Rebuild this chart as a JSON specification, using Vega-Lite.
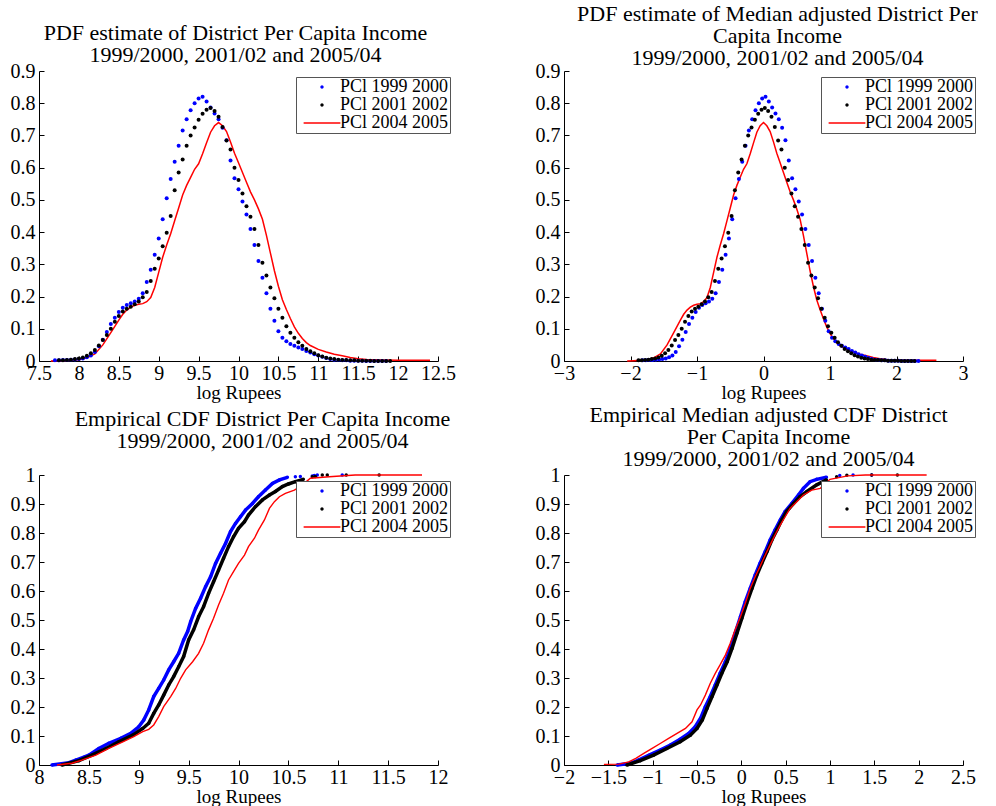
{
"$schema": "https://vega.github.io/schema/vega-lite/v6.json",
"background": "white",
"padding": {"left": 10, "top": 3, "right": 0, "bottom": 0},
"columns": 2,
"spacing": {"row": 114, "column": 126},
"bounds": "flush",
"resolve": {"scale": {"color": "independent"}, "legend": {"color": "independent"}},
"config": {
  "font": "Liberation Serif",
  "view": {"stroke": null},
  "axis": {"domainColor": "#000", "domainWidth": 1, "tickColor": "#000", "tickSize": -5, "tickWidth": 1, "labelFont": "Liberation Serif", "labelFontSize": 20, "labelColor": "#000", "grid": false, "labelFlush": false, "labelOverlap": false, "titleFont": "Liberation Serif", "titleFontSize": 19, "titleFontWeight": "normal", "titleColor": "#000"},
  "axisX": {"labelPadding": 7, "titlePadding": 0},
  "axisY": {"labelPadding": 9},
  "title": {"font": "Liberation Serif", "fontSize": 22, "fontWeight": "normal", "color": "#000", "anchor": "middle", "lineHeight": 22},
  "legend": {"orient": "none", "legendX": 257, "legendY": 6, "title": null, "strokeColor": "#555", "fillColor": "#fff", "padding": 1, "labelFont": "Liberation Serif", "labelFontSize": 18, "labelColor": "#000", "rowPadding": 0, "symbolSize": 225, "symbolStrokeWidth": 1.5, "symbolOffset": 16, "labelOffset": 9, "labelLimit": 0}
},
"datasets": {
"a1": [{"x":7.7,"y":0.002},{"x":7.75,"y":0.002},{"x":7.8,"y":0.003},{"x":7.85,"y":0.003},{"x":7.9,"y":0.004},{"x":7.95,"y":0.005},{"x":8,"y":0.006},{"x":8.05,"y":0.008},{"x":8.1,"y":0.012},{"x":8.15,"y":0.017},{"x":8.2,"y":0.028},{"x":8.25,"y":0.046},{"x":8.3,"y":0.066},{"x":8.35,"y":0.09},{"x":8.4,"y":0.115},{"x":8.45,"y":0.134},{"x":8.5,"y":0.152},{"x":8.55,"y":0.165},{"x":8.6,"y":0.174},{"x":8.65,"y":0.179},{"x":8.7,"y":0.185},{"x":8.75,"y":0.193},{"x":8.8,"y":0.21},{"x":8.85,"y":0.245},{"x":8.9,"y":0.283},{"x":8.95,"y":0.33},{"x":9,"y":0.38},{"x":9.05,"y":0.44},{"x":9.1,"y":0.505},{"x":9.15,"y":0.565},{"x":9.2,"y":0.618},{"x":9.25,"y":0.668},{"x":9.3,"y":0.715},{"x":9.35,"y":0.75},{"x":9.4,"y":0.778},{"x":9.45,"y":0.8},{"x":9.5,"y":0.815},{"x":9.55,"y":0.82},{"x":9.6,"y":0.805},{"x":9.65,"y":0.787},{"x":9.7,"y":0.768},{"x":9.75,"y":0.75},{"x":9.8,"y":0.724},{"x":9.85,"y":0.685},{"x":9.9,"y":0.622},{"x":9.95,"y":0.567},{"x":10,"y":0.533},{"x":10.05,"y":0.495},{"x":10.1,"y":0.455},{"x":10.15,"y":0.41},{"x":10.2,"y":0.36},{"x":10.25,"y":0.31},{"x":10.3,"y":0.258},{"x":10.35,"y":0.21},{"x":10.4,"y":0.162},{"x":10.45,"y":0.125},{"x":10.5,"y":0.092},{"x":10.55,"y":0.072},{"x":10.6,"y":0.061},{"x":10.65,"y":0.053},{"x":10.7,"y":0.047},{"x":10.75,"y":0.042},{"x":10.8,"y":0.037},{"x":10.85,"y":0.031},{"x":10.9,"y":0.026},{"x":10.95,"y":0.021},{"x":11,"y":0.017},{"x":11.05,"y":0.013},{"x":11.1,"y":0.009},{"x":11.15,"y":0.006},{"x":11.2,"y":0.004},{"x":11.25,"y":0.003},{"x":11.3,"y":0.002},{"x":11.35,"y":0.002},{"x":11.4,"y":0.001},{"x":11.45,"y":0.001},{"x":11.5,"y":0.001},{"x":11.55,"y":0.001},{"x":11.6,"y":0},{"x":11.65,"y":0},{"x":11.7,"y":0},{"x":11.75,"y":0},{"x":11.8,"y":0},{"x":11.85,"y":0}],
"a2": [{"x":7.75,"y":0.002},{"x":7.8,"y":0.002},{"x":7.85,"y":0.003},{"x":7.9,"y":0.004},{"x":7.95,"y":0.006},{"x":8,"y":0.008},{"x":8.05,"y":0.011},{"x":8.1,"y":0.016},{"x":8.15,"y":0.024},{"x":8.2,"y":0.034},{"x":8.25,"y":0.048},{"x":8.3,"y":0.065},{"x":8.35,"y":0.081},{"x":8.4,"y":0.1},{"x":8.45,"y":0.122},{"x":8.5,"y":0.14},{"x":8.55,"y":0.154},{"x":8.6,"y":0.162},{"x":8.65,"y":0.168},{"x":8.7,"y":0.176},{"x":8.75,"y":0.185},{"x":8.8,"y":0.198},{"x":8.85,"y":0.214},{"x":8.9,"y":0.248},{"x":8.95,"y":0.286},{"x":9,"y":0.318},{"x":9.05,"y":0.356},{"x":9.1,"y":0.398},{"x":9.15,"y":0.45},{"x":9.2,"y":0.53},{"x":9.25,"y":0.585},{"x":9.3,"y":0.625},{"x":9.35,"y":0.668},{"x":9.4,"y":0.7},{"x":9.45,"y":0.725},{"x":9.5,"y":0.749},{"x":9.55,"y":0.767},{"x":9.6,"y":0.78},{"x":9.65,"y":0.785},{"x":9.7,"y":0.776},{"x":9.75,"y":0.758},{"x":9.8,"y":0.726},{"x":9.85,"y":0.684},{"x":9.9,"y":0.656},{"x":9.95,"y":0.6},{"x":10,"y":0.562},{"x":10.05,"y":0.52},{"x":10.1,"y":0.48},{"x":10.15,"y":0.448},{"x":10.2,"y":0.41},{"x":10.25,"y":0.36},{"x":10.3,"y":0.305},{"x":10.35,"y":0.265},{"x":10.4,"y":0.228},{"x":10.45,"y":0.195},{"x":10.5,"y":0.162},{"x":10.55,"y":0.134},{"x":10.6,"y":0.108},{"x":10.65,"y":0.088},{"x":10.7,"y":0.072},{"x":10.75,"y":0.058},{"x":10.8,"y":0.047},{"x":10.85,"y":0.037},{"x":10.9,"y":0.03},{"x":10.95,"y":0.024},{"x":11,"y":0.018},{"x":11.05,"y":0.014},{"x":11.1,"y":0.01},{"x":11.15,"y":0.008},{"x":11.2,"y":0.006},{"x":11.25,"y":0.004},{"x":11.3,"y":0.003},{"x":11.35,"y":0.003},{"x":11.4,"y":0.002},{"x":11.45,"y":0.002},{"x":11.5,"y":0.001},{"x":11.55,"y":0.001},{"x":11.6,"y":0.001},{"x":11.65,"y":0.001},{"x":11.7,"y":0},{"x":11.75,"y":0},{"x":11.8,"y":0},{"x":11.85,"y":0},{"x":11.9,"y":0}],
"a3": [{"x":7.65,"y":0},{"x":7.8,"y":0.001},{"x":7.9,"y":0.002},{"x":8,"y":0.004},{"x":8.1,"y":0.01},{"x":8.2,"y":0.022},{"x":8.3,"y":0.05},{"x":8.4,"y":0.088},{"x":8.5,"y":0.127},{"x":8.55,"y":0.145},{"x":8.6,"y":0.158},{"x":8.65,"y":0.167},{"x":8.7,"y":0.173},{"x":8.75,"y":0.176},{"x":8.8,"y":0.178},{"x":8.85,"y":0.184},{"x":8.9,"y":0.197},{"x":8.95,"y":0.228},{"x":9,"y":0.275},{"x":9.05,"y":0.322},{"x":9.1,"y":0.36},{"x":9.15,"y":0.395},{"x":9.2,"y":0.435},{"x":9.25,"y":0.475},{"x":9.3,"y":0.515},{"x":9.35,"y":0.545},{"x":9.4,"y":0.57},{"x":9.45,"y":0.595},{"x":9.5,"y":0.612},{"x":9.55,"y":0.643},{"x":9.6,"y":0.677},{"x":9.65,"y":0.71},{"x":9.7,"y":0.73},{"x":9.75,"y":0.74},{"x":9.8,"y":0.73},{"x":9.85,"y":0.712},{"x":9.9,"y":0.68},{"x":9.95,"y":0.645},{"x":10,"y":0.615},{"x":10.05,"y":0.585},{"x":10.1,"y":0.555},{"x":10.15,"y":0.525},{"x":10.2,"y":0.5},{"x":10.25,"y":0.472},{"x":10.3,"y":0.44},{"x":10.35,"y":0.39},{"x":10.4,"y":0.335},{"x":10.45,"y":0.28},{"x":10.5,"y":0.232},{"x":10.55,"y":0.19},{"x":10.6,"y":0.16},{"x":10.65,"y":0.132},{"x":10.7,"y":0.106},{"x":10.75,"y":0.086},{"x":10.8,"y":0.07},{"x":10.85,"y":0.057},{"x":10.9,"y":0.048},{"x":11,"y":0.036},{"x":11.1,"y":0.028},{"x":11.2,"y":0.021},{"x":11.3,"y":0.016},{"x":11.4,"y":0.011},{"x":11.5,"y":0.007},{"x":11.6,"y":0.005},{"x":11.7,"y":0.004},{"x":11.8,"y":0.003},{"x":12,"y":0.002},{"x":12.2,"y":0.002},{"x":12.4,"y":0.002}],
"b1": [{"x":-1.82,"y":0.002},{"x":-1.77,"y":0.002},{"x":-1.72,"y":0.003},{"x":-1.67,"y":0.003},{"x":-1.62,"y":0.004},{"x":-1.57,"y":0.005},{"x":-1.52,"y":0.006},{"x":-1.47,"y":0.008},{"x":-1.42,"y":0.012},{"x":-1.37,"y":0.017},{"x":-1.32,"y":0.028},{"x":-1.27,"y":0.046},{"x":-1.22,"y":0.066},{"x":-1.17,"y":0.09},{"x":-1.12,"y":0.115},{"x":-1.07,"y":0.134},{"x":-1.02,"y":0.152},{"x":-0.97,"y":0.165},{"x":-0.92,"y":0.174},{"x":-0.87,"y":0.179},{"x":-0.82,"y":0.185},{"x":-0.77,"y":0.193},{"x":-0.72,"y":0.21},{"x":-0.67,"y":0.245},{"x":-0.62,"y":0.283},{"x":-0.57,"y":0.33},{"x":-0.52,"y":0.38},{"x":-0.47,"y":0.44},{"x":-0.42,"y":0.505},{"x":-0.37,"y":0.565},{"x":-0.32,"y":0.618},{"x":-0.27,"y":0.668},{"x":-0.22,"y":0.715},{"x":-0.17,"y":0.75},{"x":-0.12,"y":0.778},{"x":-0.07,"y":0.8},{"x":-0.02,"y":0.815},{"x":0.03,"y":0.82},{"x":0.08,"y":0.805},{"x":0.13,"y":0.787},{"x":0.18,"y":0.768},{"x":0.23,"y":0.75},{"x":0.28,"y":0.724},{"x":0.33,"y":0.685},{"x":0.38,"y":0.622},{"x":0.43,"y":0.567},{"x":0.48,"y":0.533},{"x":0.53,"y":0.495},{"x":0.58,"y":0.455},{"x":0.63,"y":0.41},{"x":0.68,"y":0.36},{"x":0.73,"y":0.31},{"x":0.78,"y":0.258},{"x":0.83,"y":0.21},{"x":0.88,"y":0.162},{"x":0.93,"y":0.125},{"x":0.98,"y":0.092},{"x":1.03,"y":0.072},{"x":1.08,"y":0.061},{"x":1.13,"y":0.053},{"x":1.18,"y":0.047},{"x":1.23,"y":0.042},{"x":1.28,"y":0.037},{"x":1.33,"y":0.031},{"x":1.38,"y":0.026},{"x":1.43,"y":0.021},{"x":1.48,"y":0.017},{"x":1.53,"y":0.013},{"x":1.58,"y":0.009},{"x":1.63,"y":0.006},{"x":1.68,"y":0.004},{"x":1.73,"y":0.003},{"x":1.78,"y":0.002},{"x":1.83,"y":0.002},{"x":1.88,"y":0.001},{"x":1.93,"y":0.001},{"x":1.98,"y":0.001},{"x":2.03,"y":0.001},{"x":2.08,"y":0},{"x":2.13,"y":0},{"x":2.18,"y":0},{"x":2.23,"y":0},{"x":2.28,"y":0},{"x":2.33,"y":0}],
"b2": [{"x":-1.88,"y":0.002},{"x":-1.83,"y":0.002},{"x":-1.78,"y":0.003},{"x":-1.73,"y":0.004},{"x":-1.68,"y":0.006},{"x":-1.63,"y":0.008},{"x":-1.58,"y":0.011},{"x":-1.53,"y":0.016},{"x":-1.48,"y":0.024},{"x":-1.43,"y":0.034},{"x":-1.38,"y":0.048},{"x":-1.33,"y":0.065},{"x":-1.28,"y":0.081},{"x":-1.23,"y":0.1},{"x":-1.18,"y":0.122},{"x":-1.13,"y":0.14},{"x":-1.08,"y":0.154},{"x":-1.03,"y":0.162},{"x":-0.98,"y":0.168},{"x":-0.93,"y":0.176},{"x":-0.88,"y":0.185},{"x":-0.83,"y":0.198},{"x":-0.78,"y":0.214},{"x":-0.73,"y":0.248},{"x":-0.68,"y":0.286},{"x":-0.63,"y":0.318},{"x":-0.58,"y":0.356},{"x":-0.53,"y":0.398},{"x":-0.48,"y":0.45},{"x":-0.43,"y":0.53},{"x":-0.38,"y":0.585},{"x":-0.33,"y":0.625},{"x":-0.28,"y":0.668},{"x":-0.23,"y":0.7},{"x":-0.18,"y":0.725},{"x":-0.13,"y":0.749},{"x":-0.08,"y":0.767},{"x":-0.03,"y":0.78},{"x":0.02,"y":0.785},{"x":0.07,"y":0.776},{"x":0.12,"y":0.758},{"x":0.17,"y":0.726},{"x":0.22,"y":0.684},{"x":0.27,"y":0.656},{"x":0.32,"y":0.6},{"x":0.37,"y":0.562},{"x":0.42,"y":0.52},{"x":0.47,"y":0.48},{"x":0.52,"y":0.448},{"x":0.57,"y":0.41},{"x":0.62,"y":0.36},{"x":0.67,"y":0.305},{"x":0.72,"y":0.265},{"x":0.77,"y":0.228},{"x":0.82,"y":0.195},{"x":0.87,"y":0.162},{"x":0.92,"y":0.134},{"x":0.97,"y":0.108},{"x":1.02,"y":0.088},{"x":1.07,"y":0.072},{"x":1.12,"y":0.058},{"x":1.17,"y":0.047},{"x":1.22,"y":0.037},{"x":1.27,"y":0.03},{"x":1.32,"y":0.024},{"x":1.37,"y":0.018},{"x":1.42,"y":0.014},{"x":1.47,"y":0.01},{"x":1.52,"y":0.008},{"x":1.57,"y":0.006},{"x":1.62,"y":0.004},{"x":1.67,"y":0.003},{"x":1.72,"y":0.003},{"x":1.77,"y":0.002},{"x":1.82,"y":0.002},{"x":1.87,"y":0.001},{"x":1.92,"y":0.001},{"x":1.97,"y":0.001},{"x":2.02,"y":0.001},{"x":2.07,"y":0},{"x":2.12,"y":0},{"x":2.17,"y":0},{"x":2.22,"y":0},{"x":2.27,"y":0}],
"b3": [{"x":-2.05,"y":0},{"x":-1.95,"y":0.001},{"x":-1.85,"y":0.002},{"x":-1.75,"y":0.004},{"x":-1.65,"y":0.01},{"x":-1.55,"y":0.022},{"x":-1.45,"y":0.05},{"x":-1.35,"y":0.088},{"x":-1.25,"y":0.127},{"x":-1.2,"y":0.145},{"x":-1.15,"y":0.158},{"x":-1.1,"y":0.167},{"x":-1.05,"y":0.173},{"x":-1,"y":0.176},{"x":-0.95,"y":0.178},{"x":-0.9,"y":0.184},{"x":-0.85,"y":0.197},{"x":-0.8,"y":0.228},{"x":-0.75,"y":0.275},{"x":-0.7,"y":0.322},{"x":-0.65,"y":0.36},{"x":-0.6,"y":0.395},{"x":-0.55,"y":0.435},{"x":-0.5,"y":0.475},{"x":-0.45,"y":0.515},{"x":-0.4,"y":0.545},{"x":-0.35,"y":0.57},{"x":-0.3,"y":0.595},{"x":-0.25,"y":0.612},{"x":-0.2,"y":0.643},{"x":-0.15,"y":0.677},{"x":-0.1,"y":0.71},{"x":-0.05,"y":0.73},{"x":0,"y":0.74},{"x":0.05,"y":0.73},{"x":0.1,"y":0.712},{"x":0.15,"y":0.68},{"x":0.2,"y":0.645},{"x":0.25,"y":0.615},{"x":0.3,"y":0.585},{"x":0.35,"y":0.555},{"x":0.4,"y":0.525},{"x":0.45,"y":0.5},{"x":0.5,"y":0.472},{"x":0.55,"y":0.44},{"x":0.6,"y":0.39},{"x":0.65,"y":0.335},{"x":0.7,"y":0.28},{"x":0.75,"y":0.232},{"x":0.8,"y":0.19},{"x":0.85,"y":0.16},{"x":0.9,"y":0.132},{"x":0.95,"y":0.106},{"x":1,"y":0.086},{"x":1.05,"y":0.07},{"x":1.1,"y":0.057},{"x":1.15,"y":0.048},{"x":1.25,"y":0.036},{"x":1.35,"y":0.028},{"x":1.45,"y":0.021},{"x":1.55,"y":0.016},{"x":1.65,"y":0.011},{"x":1.75,"y":0.007},{"x":1.85,"y":0.005},{"x":1.95,"y":0.004},{"x":2.05,"y":0.003},{"x":2.25,"y":0.002},{"x":2.45,"y":0.002},{"x":2.6,"y":0.002}],
"c1": [{"x":8.13,"y":0},{"x":8.3,"y":0.008},{"x":8.37,"y":0.017},{"x":8.45,"y":0.027},{"x":8.5,"y":0.034},{"x":8.6,"y":0.057},{"x":8.7,"y":0.075},{"x":8.82,"y":0.092},{"x":8.92,"y":0.109},{"x":9,"y":0.132},{"x":9.05,"y":0.155},{"x":9.1,"y":0.19},{"x":9.15,"y":0.236},{"x":9.2,"y":0.264},{"x":9.25,"y":0.293},{"x":9.3,"y":0.328},{"x":9.35,"y":0.356},{"x":9.4,"y":0.385},{"x":9.45,"y":0.431},{"x":9.49,"y":0.46},{"x":9.52,"y":0.494},{"x":9.57,"y":0.54},{"x":9.62,"y":0.575},{"x":9.67,"y":0.615},{"x":9.72,"y":0.649},{"x":9.77,"y":0.695},{"x":9.82,"y":0.73},{"x":9.87,"y":0.764},{"x":9.92,"y":0.805},{"x":9.97,"y":0.833},{"x":10.02,"y":0.856},{"x":10.07,"y":0.879},{"x":10.14,"y":0.902},{"x":10.2,"y":0.925},{"x":10.27,"y":0.948},{"x":10.34,"y":0.971},{"x":10.41,"y":0.983},{"x":10.49,"y":0.992},{"x":10.57,"y":0.994},{"x":10.62,"y":0.995},{"x":10.74,"y":0.997},{"x":10.76,"y":0.998},{"x":10.79,"y":1},{"x":11.04,"y":1}],
"c2": [{"x":8.23,"y":0},{"x":8.4,"y":0.015},{"x":8.53,"y":0.034},{"x":8.67,"y":0.057},{"x":8.8,"y":0.08},{"x":8.94,"y":0.103},{"x":9.04,"y":0.126},{"x":9.1,"y":0.144},{"x":9.15,"y":0.178},{"x":9.2,"y":0.207},{"x":9.25,"y":0.241},{"x":9.3,"y":0.276},{"x":9.35,"y":0.305},{"x":9.4,"y":0.339},{"x":9.45,"y":0.374},{"x":9.5,"y":0.431},{"x":9.55,"y":0.466},{"x":9.6,"y":0.511},{"x":9.65,"y":0.546},{"x":9.7,"y":0.592},{"x":9.75,"y":0.632},{"x":9.8,"y":0.672},{"x":9.85,"y":0.713},{"x":9.9,"y":0.753},{"x":9.95,"y":0.787},{"x":10,"y":0.816},{"x":10.06,"y":0.839},{"x":10.1,"y":0.862},{"x":10.17,"y":0.891},{"x":10.24,"y":0.914},{"x":10.31,"y":0.931},{"x":10.37,"y":0.943},{"x":10.44,"y":0.96},{"x":10.5,"y":0.969},{"x":10.57,"y":0.977},{"x":10.65,"y":0.985},{"x":10.74,"y":0.994},{"x":10.77,"y":0.995},{"x":10.84,"y":1},{"x":10.89,"y":1},{"x":11.08,"y":1},{"x":11.41,"y":1}],
"c3": [{"x":8.18,"y":0},{"x":8.33,"y":0.006},{"x":8.43,"y":0.017},{"x":8.57,"y":0.034},{"x":8.7,"y":0.057},{"x":8.84,"y":0.08},{"x":8.95,"y":0.098},{"x":9.04,"y":0.115},{"x":9.1,"y":0.123},{"x":9.15,"y":0.138},{"x":9.2,"y":0.167},{"x":9.25,"y":0.201},{"x":9.32,"y":0.236},{"x":9.37,"y":0.264},{"x":9.42,"y":0.299},{"x":9.47,"y":0.328},{"x":9.54,"y":0.356},{"x":9.6,"y":0.385},{"x":9.65,"y":0.42},{"x":9.7,"y":0.466},{"x":9.75,"y":0.506},{"x":9.8,"y":0.552},{"x":9.85,"y":0.592},{"x":9.9,"y":0.638},{"x":9.95,"y":0.667},{"x":10,"y":0.695},{"x":10.06,"y":0.724},{"x":10.1,"y":0.753},{"x":10.16,"y":0.782},{"x":10.2,"y":0.81},{"x":10.26,"y":0.845},{"x":10.31,"y":0.885},{"x":10.36,"y":0.908},{"x":10.41,"y":0.925},{"x":10.47,"y":0.937},{"x":10.56,"y":0.948},{"x":10.64,"y":0.965},{"x":10.72,"y":0.989},{"x":10.91,"y":0.994},{"x":11.17,"y":1},{"x":11.84,"y":1}],
"d1": [{"x":-1.4,"y":0},{"x":-1.25,"y":0.006},{"x":-1.16,"y":0.017},{"x":-1.04,"y":0.034},{"x":-0.91,"y":0.052},{"x":-0.8,"y":0.069},{"x":-0.69,"y":0.089},{"x":-0.594,"y":0.109},{"x":-0.52,"y":0.132},{"x":-0.46,"y":0.161},{"x":-0.406,"y":0.201},{"x":-0.35,"y":0.236},{"x":-0.294,"y":0.276},{"x":-0.24,"y":0.316},{"x":-0.18,"y":0.356},{"x":-0.125,"y":0.402},{"x":-0.07,"y":0.454},{"x":-0.01,"y":0.511},{"x":0.044,"y":0.563},{"x":0.1,"y":0.609},{"x":0.156,"y":0.655},{"x":0.21,"y":0.695},{"x":0.27,"y":0.736},{"x":0.325,"y":0.776},{"x":0.38,"y":0.81},{"x":0.44,"y":0.845},{"x":0.494,"y":0.874},{"x":0.57,"y":0.902},{"x":0.644,"y":0.931},{"x":0.7,"y":0.954},{"x":0.775,"y":0.977},{"x":0.85,"y":0.985},{"x":0.96,"y":0.992},{"x":1.11,"y":0.998},{"x":1.26,"y":1},{"x":1.47,"y":1}],
"d2": [{"x":-1.29,"y":0},{"x":-1.14,"y":0.015},{"x":-0.99,"y":0.034},{"x":-0.84,"y":0.057},{"x":-0.69,"y":0.08},{"x":-0.575,"y":0.103},{"x":-0.5,"y":0.126},{"x":-0.44,"y":0.155},{"x":-0.387,"y":0.195},{"x":-0.33,"y":0.236},{"x":-0.275,"y":0.276},{"x":-0.22,"y":0.316},{"x":-0.16,"y":0.356},{"x":-0.105,"y":0.402},{"x":-0.05,"y":0.454},{"x":0.006,"y":0.506},{"x":0.06,"y":0.557},{"x":0.12,"y":0.609},{"x":0.175,"y":0.655},{"x":0.23,"y":0.695},{"x":0.29,"y":0.736},{"x":0.344,"y":0.776},{"x":0.4,"y":0.81},{"x":0.456,"y":0.845},{"x":0.51,"y":0.874},{"x":0.59,"y":0.902},{"x":0.66,"y":0.925},{"x":0.74,"y":0.943},{"x":0.85,"y":0.966},{"x":0.96,"y":0.983},{"x":1.075,"y":0.994},{"x":1.19,"y":0.999},{"x":1.47,"y":1},{"x":1.76,"y":1}],
"d3": [{"x":-1.55,"y":0.002},{"x":-1.38,"y":0.003},{"x":-1.27,"y":0.011},{"x":-1.19,"y":0.023},{"x":-1.1,"y":0.04},{"x":-1.006,"y":0.057},{"x":-0.91,"y":0.075},{"x":-0.82,"y":0.092},{"x":-0.725,"y":0.109},{"x":-0.63,"y":0.126},{"x":-0.556,"y":0.149},{"x":-0.5,"y":0.19},{"x":-0.46,"y":0.207},{"x":-0.406,"y":0.241},{"x":-0.35,"y":0.282},{"x":-0.294,"y":0.316},{"x":-0.24,"y":0.345},{"x":-0.18,"y":0.379},{"x":-0.125,"y":0.42},{"x":-0.07,"y":0.466},{"x":-0.01,"y":0.511},{"x":0.044,"y":0.557},{"x":0.1,"y":0.609},{"x":0.156,"y":0.649},{"x":0.21,"y":0.684},{"x":0.27,"y":0.724},{"x":0.325,"y":0.759},{"x":0.38,"y":0.793},{"x":0.44,"y":0.828},{"x":0.494,"y":0.856},{"x":0.55,"y":0.885},{"x":0.625,"y":0.908},{"x":0.7,"y":0.931},{"x":0.794,"y":0.948},{"x":0.89,"y":0.954},{"x":1,"y":0.985},{"x":1.2,"y":0.997},{"x":1.4,"y":1},{"x":2.09,"y":1}]
},
"concat": [
{
  "width": 399, "height": 290,
  "title": {"text": ["PDF estimate of District Per Capita Income", "1999/2000, 2001/02 and 2005/04"], "offset": -1, "dy": 5, "dx": -3},
  "encoding": {
    "x": {"field": "x", "type": "quantitative", "scale": {"domain": [7.5, 12.5], "nice": false, "zero": false}, "axis": {"values": [7.5,8,8.5,9,9.5,10,10.5,11,11.5,12,12.5], "format": "~g", "title": "log Rupees"}},
    "y": {"field": "y", "type": "quantitative", "scale": {"domain": [0, 0.9], "nice": false}, "axis": {"values": [0,0.1,0.2,0.3,0.4,0.5,0.6,0.7,0.8,0.9], "format": "~g", "title": null}}
  },
  "layer": [
    {"data": {"name": "a3"}, "mark": {"type": "line", "strokeWidth": 1.5}, "encoding": {"color": {"datum": "PCl 2004 2005", "scale": {"domain": ["PCl 1999 2000", "PCl 2001 2002", "PCl 2004 2005"], "range": ["#0000ff", "#000000", "#ff0000"]}, "legend": {"encode": {"symbols": {"update": {"shape": {"signal": "datum.value === 'PCl 2004 2005' ? 'M-2.45,0L2.45,0' : 'M-0.12,0a0.12,0.12 0 1,0 0.24,0a0.12,0.12 0 1,0 -0.24,0'"}, "fill": {"signal": "datum.value === 'PCl 1999 2000' ? '#0000ff' : datum.value === 'PCl 2001 2002' ? '#000000' : 'transparent'"}, "stroke": {"signal": "datum.value === 'PCl 1999 2000' ? '#0000ff' : datum.value === 'PCl 2001 2002' ? '#000000' : '#ff0000'"}, "opacity": {"value": 1}, "fillOpacity": {"value": 1}, "strokeOpacity": {"value": 1}}}}}}}},
    {"data": {"name": "a1"}, "mark": {"type": "point", "filled": true, "size": 16, "opacity": 1}, "encoding": {"color": {"datum": "PCl 1999 2000"}}},
    {"data": {"name": "a2"}, "mark": {"type": "point", "filled": true, "size": 16, "opacity": 1}, "encoding": {"color": {"datum": "PCl 2001 2002"}}}
  ]
},
{
  "width": 399, "height": 290,
  "title": {"text": ["PDF estimate of Median adjusted District Per", "Capita Income", "1999/2000, 2001/02 and 2005/04"], "offset": -7, "dy": 2, "dx": 14},
  "encoding": {
    "x": {"field": "x", "type": "quantitative", "scale": {"domain": [-3, 3], "nice": false, "zero": false}, "axis": {"values": [-3,-2,-1,0,1,2,3], "format": "~g", "title": "log Rupees"}},
    "y": {"field": "y", "type": "quantitative", "scale": {"domain": [0, 0.9], "nice": false}, "axis": {"values": [0,0.1,0.2,0.3,0.4,0.5,0.6,0.7,0.8,0.9], "format": "~g", "title": null}}
  },
  "layer": [
    {"data": {"name": "b3"}, "mark": {"type": "line", "strokeWidth": 1.5}, "encoding": {"color": {"datum": "PCl 2004 2005", "scale": {"domain": ["PCl 1999 2000", "PCl 2001 2002", "PCl 2004 2005"], "range": ["#0000ff", "#000000", "#ff0000"]}, "legend": {"encode": {"symbols": {"update": {"shape": {"signal": "datum.value === 'PCl 2004 2005' ? 'M-2.45,0L2.45,0' : 'M-0.12,0a0.12,0.12 0 1,0 0.24,0a0.12,0.12 0 1,0 -0.24,0'"}, "fill": {"signal": "datum.value === 'PCl 1999 2000' ? '#0000ff' : datum.value === 'PCl 2001 2002' ? '#000000' : 'transparent'"}, "stroke": {"signal": "datum.value === 'PCl 1999 2000' ? '#0000ff' : datum.value === 'PCl 2001 2002' ? '#000000' : '#ff0000'"}, "opacity": {"value": 1}, "fillOpacity": {"value": 1}, "strokeOpacity": {"value": 1}}}}}}}},
    {"data": {"name": "b1"}, "mark": {"type": "point", "filled": true, "size": 16, "opacity": 1}, "encoding": {"color": {"datum": "PCl 1999 2000"}}},
    {"data": {"name": "b2"}, "mark": {"type": "point", "filled": true, "size": 16, "opacity": 1}, "encoding": {"color": {"datum": "PCl 2001 2002"}}}
  ]
},
{
  "width": 399, "height": 290,
  "title": {"text": ["Empirical CDF District Per Capita Income", "1999/2000, 2001/02 and 2005/04"], "offset": 16, "dy": 4, "dx": 24},
  "encoding": {
    "x": {"field": "x", "type": "quantitative", "scale": {"domain": [8, 12], "nice": false, "zero": false}, "axis": {"values": [8,8.5,9,9.5,10,10.5,11,11.5,12], "format": "~g", "title": "log Rupees"}},
    "y": {"field": "y", "type": "quantitative", "scale": {"domain": [0, 1], "nice": false}, "axis": {"values": [0,0.1,0.2,0.3,0.4,0.5,0.6,0.7,0.8,0.9,1], "format": "~g", "title": null}}
  },
  "layer": [
    {"data": {"name": "c1"}, "transform": [{"filter": "datum.y < 0.993"}], "mark": {"type": "line", "strokeWidth": 3.5}, "encoding": {"color": {"datum": "PCl 1999 2000", "scale": {"domain": ["PCl 1999 2000", "PCl 2001 2002", "PCl 2004 2005"], "range": ["#0000ff", "#000000", "#ff0000"]}, "legend": {"encode": {"symbols": {"update": {"shape": {"signal": "datum.value === 'PCl 2004 2005' ? 'M-2.45,0L2.45,0' : 'M-0.12,0a0.12,0.12 0 1,0 0.24,0a0.12,0.12 0 1,0 -0.24,0'"}, "fill": {"signal": "datum.value === 'PCl 1999 2000' ? '#0000ff' : datum.value === 'PCl 2001 2002' ? '#000000' : 'transparent'"}, "stroke": {"signal": "datum.value === 'PCl 1999 2000' ? '#0000ff' : datum.value === 'PCl 2001 2002' ? '#000000' : '#ff0000'"}, "opacity": {"value": 1}, "fillOpacity": {"value": 1}, "strokeOpacity": {"value": 1}}}}}}}},
    {"data": {"name": "c1"}, "mark": {"type": "point", "filled": true, "size": 12, "opacity": 1}, "encoding": {"color": {"datum": "PCl 1999 2000"}}},
    {"data": {"name": "c2"}, "transform": [{"filter": "datum.y < 0.99"}], "mark": {"type": "line", "strokeWidth": 3.5}, "encoding": {"color": {"datum": "PCl 2001 2002"}}},
    {"data": {"name": "c2"}, "mark": {"type": "point", "filled": true, "size": 12, "opacity": 1}, "encoding": {"color": {"datum": "PCl 2001 2002"}}},
    {"data": {"name": "c3"}, "mark": {"type": "line", "strokeWidth": 1.4}, "encoding": {"color": {"datum": "PCl 2004 2005"}}}
  ]
},
{
  "width": 399, "height": 290,
  "title": {"text": ["Empirical Median adjusted CDF District", "Per Capita Income", "1999/2000, 2001/02 and 2005/04"], "offset": -3, "dy": 3, "dx": 5},
  "encoding": {
    "x": {"field": "x", "type": "quantitative", "scale": {"domain": [-2, 2.5], "nice": false, "zero": false}, "axis": {"values": [-2,-1.5,-1,-0.5,0,0.5,1,1.5,2,2.5], "format": "~g", "title": "log Rupees"}},
    "y": {"field": "y", "type": "quantitative", "scale": {"domain": [0, 1], "nice": false}, "axis": {"values": [0,0.1,0.2,0.3,0.4,0.5,0.6,0.7,0.8,0.9,1], "format": "~g", "title": null}}
  },
  "layer": [
    {"data": {"name": "d1"}, "transform": [{"filter": "datum.y < 0.993"}], "mark": {"type": "line", "strokeWidth": 3.5}, "encoding": {"color": {"datum": "PCl 1999 2000", "scale": {"domain": ["PCl 1999 2000", "PCl 2001 2002", "PCl 2004 2005"], "range": ["#0000ff", "#000000", "#ff0000"]}, "legend": {"encode": {"symbols": {"update": {"shape": {"signal": "datum.value === 'PCl 2004 2005' ? 'M-2.45,0L2.45,0' : 'M-0.12,0a0.12,0.12 0 1,0 0.24,0a0.12,0.12 0 1,0 -0.24,0'"}, "fill": {"signal": "datum.value === 'PCl 1999 2000' ? '#0000ff' : datum.value === 'PCl 2001 2002' ? '#000000' : 'transparent'"}, "stroke": {"signal": "datum.value === 'PCl 1999 2000' ? '#0000ff' : datum.value === 'PCl 2001 2002' ? '#000000' : '#ff0000'"}, "opacity": {"value": 1}, "fillOpacity": {"value": 1}, "strokeOpacity": {"value": 1}}}}}}}},
    {"data": {"name": "d1"}, "mark": {"type": "point", "filled": true, "size": 12, "opacity": 1}, "encoding": {"color": {"datum": "PCl 1999 2000"}}},
    {"data": {"name": "d2"}, "transform": [{"filter": "datum.y < 0.99"}], "mark": {"type": "line", "strokeWidth": 3.5}, "encoding": {"color": {"datum": "PCl 2001 2002"}}},
    {"data": {"name": "d2"}, "mark": {"type": "point", "filled": true, "size": 12, "opacity": 1}, "encoding": {"color": {"datum": "PCl 2001 2002"}}},
    {"data": {"name": "d3"}, "mark": {"type": "line", "strokeWidth": 1.4}, "encoding": {"color": {"datum": "PCl 2004 2005"}}}
  ]
}
]
}
